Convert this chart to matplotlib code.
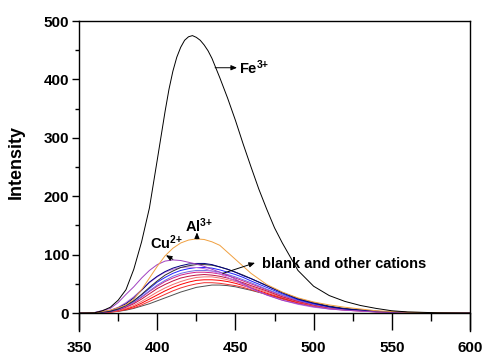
import matplotlib
matplotlib.use("Agg")
import matplotlib.pyplot as plt
from matplotlib.ticker import MultipleLocator

plt.rcParams['font.family'] = ['Liberation Sans', 'DejaVu Sans']
plt.rcParams['mathtext.fontset'] = 'custom'
plt.rcParams['mathtext.rm'] = 'Liberation Sans:bold'
plt.rcParams['mathtext.bf'] = 'Liberation Sans:bold'
plt.rcParams['mathtext.it'] = 'Liberation Sans:bold'
plt.rcParams['mathtext.default'] = 'bf'

wavelength = [350, 360, 370, 375, 380, 385, 390, 395, 400, 405, 410, 415, 420, 425, 430,
              435, 440, 445, 450, 455, 460, 470, 480, 490, 500, 510, 520, 540, 560, 580, 600]

fe_wavelength = [350, 360, 365, 370, 375, 380, 385, 390, 395, 400, 405, 407.5, 410, 412.5,
                 415, 417.5, 420, 422.5, 425, 427.5, 430, 432.5, 435, 440, 445, 450, 455,
                 460, 465, 470, 475, 480, 490, 500, 510, 520, 530, 540, 550, 560, 580, 600]
fe3 = [0, 0.5, 4, 10, 22, 40, 75, 122, 180, 262, 345, 383, 414, 438,
       455, 467, 473, 475, 472, 467, 459, 449, 436, 403, 368, 330, 289,
       250, 212, 178, 146, 120, 73, 46, 30, 20, 13, 8, 4, 2, 0.5, 0]

al3 = [0, 0.5, 5, 9, 14, 24, 40, 60, 80, 98, 111, 120, 125, 127, 126,
       122, 116, 104, 92, 80, 68, 49, 36, 26, 19, 14, 10, 4, 1.5, 0.5, 0]
cu2 = [0, 1, 8, 18, 32, 45, 60, 73, 83, 89, 91, 90, 87, 84, 80,
       75, 70, 65, 58, 50, 43, 31, 22, 16, 11, 7, 5, 2, 1, 0.3, 0]
orchid = [0, 0.5, 5, 10, 18, 28, 40, 52, 62, 70, 75, 78, 79, 78, 76,
          72, 67, 61, 55, 48, 42, 31, 22, 15, 10, 7, 5, 2, 1, 0.3, 0]
navy = [0, 1, 4, 9, 16, 26, 39, 53, 63, 71, 77, 81, 84, 85, 85,
        83, 79, 75, 70, 64, 59, 47, 35, 24, 17, 11, 7, 3, 1, 0.4, 0]
dark = [0, 0.8, 3, 7, 13, 21, 32, 44, 55, 65, 72, 78, 81, 83, 83,
        82, 79, 75, 70, 65, 59, 47, 35, 25, 18, 12, 8, 3, 1, 0.4, 0]
blue = [0, 0.8, 3, 7, 13, 21, 31, 42, 53, 61, 68, 73, 76, 78, 78,
        77, 74, 70, 66, 61, 55, 44, 33, 23, 16, 11, 7, 3, 1, 0.4, 0]
slate = [0, 0.7, 3, 6, 12, 19, 28, 38, 48, 56, 63, 68, 71, 73, 73,
         72, 70, 66, 62, 57, 52, 41, 31, 22, 15, 10, 7, 3, 1, 0.4, 0]
magenta = [0, 0.7, 3, 6, 11, 18, 27, 37, 46, 54, 60, 65, 68, 70, 70,
           69, 67, 64, 60, 55, 50, 40, 30, 21, 15, 10, 7, 3, 1, 0.4, 0]
crimson = [0, 0.6, 2.5, 5, 10, 16, 24, 33, 42, 49, 55, 60, 63, 65, 66,
           65, 63, 60, 56, 52, 47, 38, 28, 20, 14, 9, 6, 2.5, 1, 0.4, 0]
salmon = [0, 0.5, 2, 4, 8, 13, 20, 28, 36, 43, 49, 54, 58, 61, 62,
          62, 60, 57, 54, 50, 45, 36, 27, 19, 13, 9, 6, 2.5, 1, 0.4, 0]
red = [0, 0.5, 2, 4, 7, 11, 17, 24, 31, 38, 44, 49, 53, 56, 57,
       57, 56, 54, 51, 47, 43, 34, 26, 18, 13, 9, 6, 2.5, 1, 0.4, 0]
red2 = [0, 0.4, 1.5, 3, 6, 9, 14, 20, 26, 32, 38, 43, 47, 50, 52,
        52, 51, 49, 47, 44, 40, 32, 24, 17, 12, 8, 5, 2, 1, 0.3, 0]
blank = [0, 0.3, 2, 3, 5, 8, 12, 16, 21, 26, 31, 36, 40, 44, 46,
         48, 48, 47, 45, 42, 39, 32, 25, 18, 13, 9, 6, 2.5, 1, 0.4, 0]

series = [
    (blank, '#505050'), (red2, '#f03030'), (red, '#ff0000'), (salmon, '#f07070'),
    (crimson, '#c01040'), (magenta, '#d0208a'), (slate, '#7070e0'), (blue, '#2020ff'),
    (orchid, '#c070e0'), (dark, '#303030'), (navy, '#000080'),
    (cu2, '#a040c0'), (al3, '#f0a040'),
]

fig = plt.figure(figsize=(4.85, 3.56), dpi=100)
ax = fig.add_axes([0.163, 0.070, 0.806, 0.871])

for ys, col in series:
    ax.plot(wavelength, ys, color=col, lw=0.7)
ax.plot(fe_wavelength, fe3, color='black', lw=0.7)

ax.set_xlim(350, 600)
ax.set_ylim(-30.8, 500)
ax.spines['bottom'].set_position(('data', 0))
ax.spines['bottom'].set_linewidth(1.0)
for s in ['left', 'right', 'top']:
    ax.spines[s].set_linewidth(1.0)

ax.xaxis.set_major_locator(MultipleLocator(50))
ax.xaxis.set_minor_locator(MultipleLocator(25))
ax.yaxis.set_major_locator(MultipleLocator(100))
ax.yaxis.set_minor_locator(MultipleLocator(50))
ax.tick_params(axis='x', which='major', direction='out', length=12.2, width=1.0, pad=8,
               labelsize=11)
ax.tick_params(axis='x', which='minor', direction='out', length=5.8, width=1.0)
ax.tick_params(axis='y', which='major', direction='out', length=5, width=1.0, pad=2,
               labelsize=11)
ax.tick_params(axis='y', which='minor', direction='out', length=3, width=1.0)
for lab in ax.get_xticklabels() + ax.get_yticklabels():
    lab.set_fontweight('bold')

ax.set_ylabel('Intensity', fontsize=13, fontweight='bold')
ax.yaxis.set_label_coords(-0.138, 0.545)

arrow = dict(arrowstyle='-|>,head_length=0.35,head_width=0.15', color='black', lw=0.7,
             shrinkA=0, shrinkB=0)
fs = 10.5
ax.annotate('', xy=(451, 420), xytext=(437, 420), arrowprops=arrow)
ax.text(452, 420, 'Fe$^{3{+}}$', fontsize=fs, fontweight='bold', va='center', ha='left')

ax.annotate('', xy=(425.4, 138), xytext=(425.4, 127), arrowprops=arrow)
ax.text(427, 150, 'Al$^{3{+}}$', fontsize=fs, fontweight='bold', va='center', ha='center')

ax.annotate('', xy=(405.6, 99), xytext=(410, 92), arrowprops=arrow)
ax.text(406, 120, 'Cu$^{2{+}}$', fontsize=fs, fontweight='bold', va='center', ha='center')

ax.annotate('', xy=(462.5, 86), xytext=(442, 68), arrowprops=arrow)
ax.text(467, 84, 'blank and other cations', fontsize=fs, fontweight='bold',
        va='center', ha='left')

fig.savefig('out.png', dpi=100)
